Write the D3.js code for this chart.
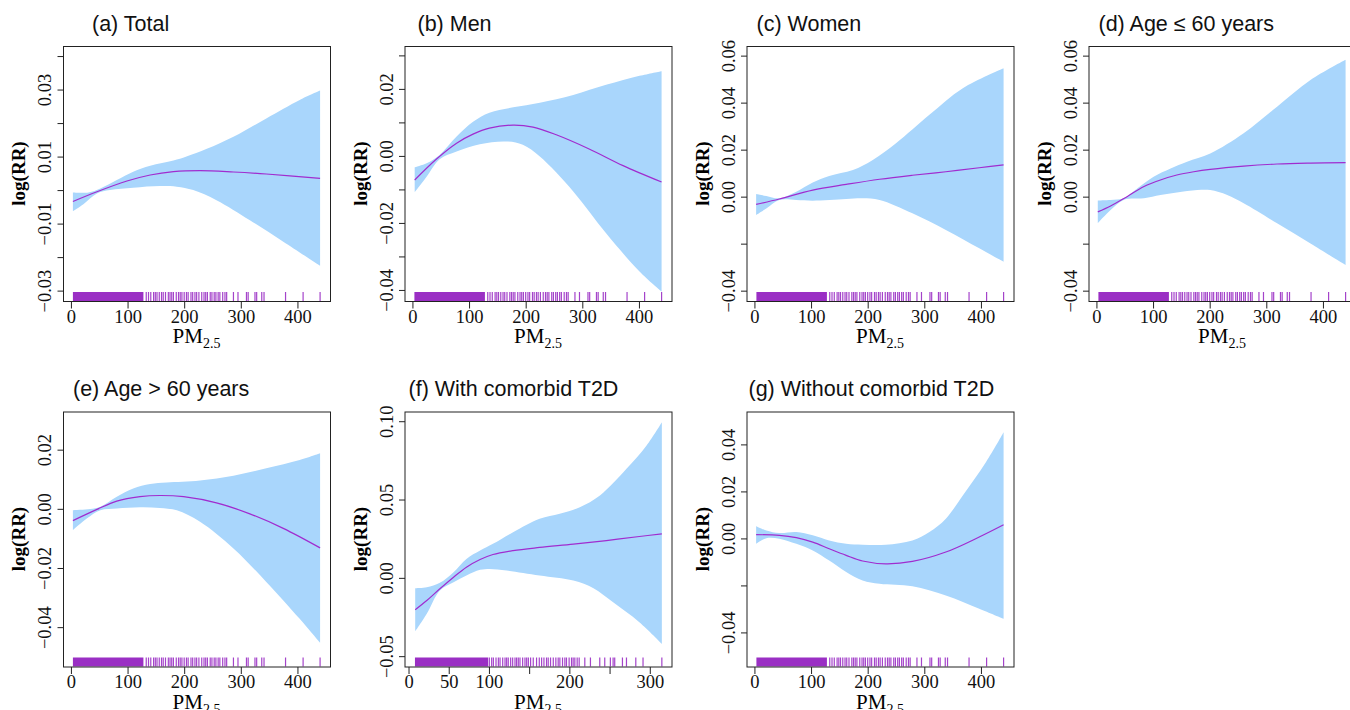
<!DOCTYPE html>
<html lang="en">
<head>
<meta charset="utf-8">
<title>PM2.5 exposure-response curves</title>
<script src="https://cdn.jsdelivr.net/npm/d3@7"></script>
<style>
  body { margin: 0; background: #fff; }
  svg { display: block; }
</style>
</head>
<body>
<script>
// panel titles
var panelTitles = ["(a) Total", "(b) Men", "(c) Women", "(d) Age \u2264 60 years",
                   "(e) Age > 60 years", "(f) With comorbid T2D", "(g) Without comorbid T2D"];

// (a) total
var totalFitX = [3.5, 46, 99, 140, 181, 228, 287, 345, 440];
var totalFit  = [-0.0034, -0.0005, 0.0027, 0.0045, 0.0055, 0.0058, 0.0054, 0.0048, 0.0035];
var totalUpX  = [3.5, 31, 52, 81, 110, 140, 181, 204, 240, 287, 345, 404, 440];
var totalUp   = [-0.0007, -0.0007, 0.0005, 0.003, 0.0055, 0.0073, 0.0088, 0.010, 0.0123, 0.0159, 0.0214, 0.0269, 0.0297];
var totalLowX = [3.5, 22, 46, 69, 110, 157, 187, 216, 257, 316, 375, 440];
var totalLow  = [-0.0063, -0.0042, -0.001, 0.000, 0.0007, 0.0012, 0.001, 0.000, -0.003, -0.009, -0.0154, -0.0226];

// (b) men
var menFitX = [4, 42, 78, 107, 136, 178, 213, 254, 313, 372, 440];
var menFit  = [-0.0072, -0.001, 0.0038, 0.0065, 0.0083, 0.0092, 0.0086, 0.0063, 0.002, -0.0029, -0.0078];
var menUpX  = [4, 25, 48, 78, 107, 136, 178, 225, 284, 342, 401, 440];
var menUp   = [-0.0034, -0.0022, 0.0003, 0.0058, 0.0102, 0.0129, 0.0145, 0.0159, 0.0182, 0.0212, 0.0239, 0.0253];
var menLowX = [4, 25, 48, 78, 119, 166, 195, 225, 284, 342, 401, 440];
var menLow  = [-0.0108, -0.0062, -0.001, 0.0013, 0.0035, 0.0043, 0.0033, -0.0002, -0.0106, -0.0231, -0.0345, -0.0405];

// (c) women
var womenFitX = [3, 44, 103, 162, 221, 279, 338, 397, 440];
var womenFit  = [-0.0033, -0.001, 0.0028, 0.0052, 0.0074, 0.0091, 0.0106, 0.0123, 0.0135];
var womenUpX  = [3, 21, 44, 74, 103, 132, 174, 209, 250, 309, 368, 440];
var womenUp   = [0.0011, 0.0003, -0.0007, 0.0021, 0.006, 0.0088, 0.0113, 0.0156, 0.0227, 0.0348, 0.0461, 0.0546];
var womenLowX = [3, 21, 44, 74, 103, 162, 191, 221, 279, 338, 397, 440];
var womenLow  = [-0.0078, -0.005, -0.0014, -0.0014, -0.0017, -0.001, -0.0007, -0.0014, -0.0071, -0.0142, -0.022, -0.0277];

// (d) age <= 60
var youngFitX = [2.4, 25, 54, 84, 113, 142, 172, 201, 260, 319, 378, 440];
var youngFit  = [-0.0065, -0.004, 0.000, 0.0043, 0.0071, 0.0092, 0.0106, 0.0116, 0.013, 0.0139, 0.0143, 0.0145];
var youngUpX  = [2.4, 25, 48, 72, 101, 131, 160, 201, 260, 319, 378, 440];
var youngUp   = [-0.0016, -0.0014, -0.0007, 0.0035, 0.0085, 0.012, 0.0149, 0.0184, 0.027, 0.0383, 0.0496, 0.0582];
var youngLowX = [2.4, 25, 48, 84, 113, 142, 178, 201, 231, 260, 319, 378, 440];
var youngLow  = [-0.0113, -0.0057, -0.0014, -0.0007, 0.0007, 0.0018, 0.0028, 0.0028, 0.0007, -0.0028, -0.0113, -0.0199, -0.0291];

// (e) age > 60
var oldFitX = [3.5, 46, 81, 122, 157, 199, 257, 316, 375, 440];
var oldFit  = [-0.004, -0.0002, 0.0026, 0.0041, 0.0045, 0.0041, 0.002, -0.0017, -0.0066, -0.0132];
var oldUpX  = [3.5, 34, 52, 81, 110, 140, 169, 228, 287, 345, 404, 440];
var oldUp   = [-0.0005, -0.0001, 0.0007, 0.0041, 0.0069, 0.0084, 0.0089, 0.0096, 0.0112, 0.0137, 0.0165, 0.0188];
var oldLowX = [3.5, 28, 52, 81, 122, 157, 187, 228, 287, 345, 404, 440];
var oldLow  = [-0.0072, -0.0033, -0.0005, 0.0001, 0.0005, 0.0003, -0.0005, -0.0044, -0.0134, -0.0247, -0.0372, -0.0453];

// (f) with comorbid T2D
var t2dFitX = [8.3, 22.7, 39, 56, 72, 89, 105, 130, 163, 205, 246, 287, 315];
var t2dFit  = [-0.0204, -0.0145, -0.007, 0.0004, 0.0068, 0.0117, 0.0149, 0.0174, 0.0194, 0.0215, 0.0238, 0.0264, 0.0281];
var t2dUpX  = [8.3, 22.7, 39, 56, 72, 89, 105, 130, 163, 188, 213, 238, 271, 296, 315];
var t2dUp   = [-0.0066, -0.006, -0.0032, 0.0036, 0.0121, 0.0174, 0.0217, 0.0291, 0.0377, 0.0409, 0.0451, 0.0526, 0.0696, 0.0845, 0.0994];
var t2dLowX = [8.3, 22.7, 39, 56, 72, 89, 101, 122, 163, 205, 230, 254, 287, 315];
var t2dLow  = [-0.0343, -0.023, -0.0081, -0.0028, 0.0015, 0.0051, 0.0057, 0.0047, 0.0015, -0.0017, -0.0066, -0.0155, -0.0283, -0.0421];

// (g) without comorbid T2D
var noT2dFitX = [3, 44, 74, 103, 132, 162, 191, 232, 279, 338, 397, 440];
var noT2dFit  = [0.0016, 0.0013, 0.0003, -0.0016, -0.0044, -0.0072, -0.0096, -0.0108, -0.0098, -0.0058, 0.0006, 0.0058];
var noT2dUpX  = [3, 21, 44, 74, 103, 132, 162, 191, 232, 279, 309, 338, 368, 409, 440];
var noT2dUp   = [0.0052, 0.0034, 0.0023, 0.0027, 0.0013, -0.0009, -0.0023, -0.0027, -0.0027, -0.0009, 0.0027, 0.0084, 0.0183, 0.0325, 0.0452];
var noT2dLowX = [3, 21, 44, 74, 103, 132, 162, 191, 221, 279, 338, 397, 440];
var noT2dLow  = [-0.0023, 0.0001, -0.0001, -0.0023, -0.0051, -0.0094, -0.0143, -0.0179, -0.0193, -0.0204, -0.0243, -0.0299, -0.0342];

// rug of observed PM2.5 (dense span drawn solid, then single days)
var rugDense  = [3.5, 128];
var rugSparse = [133, 137, 141, 146, 149, 152, 156, 160, 163, 167, 172, 175, 178, 181, 186, 190, 193, 196, 200,
                 204, 207, 212, 215, 219, 222, 226, 231, 235, 238, 241, 246, 249, 253, 256, 260, 263, 268, 272,
                 275, 287, 295, 310, 313, 325, 328, 337, 341, 379, 410, 440];
var t2dRugDense  = [8, 99];
var t2dRugSparse = [100.5, 103.4, 105.5, 108.8, 111.7, 113.8, 117.1, 120, 122, 124, 127, 129.5, 132.4, 134.4,
                    136.5, 138.6, 141.9, 144.8, 146.9, 149, 151.8, 155.1, 159.2, 162.6, 165.5, 168.4, 171.6,
                    173.7, 176.6, 180, 183.2, 186.1, 188.2, 191.5, 194.4, 196.4, 199.7, 202.7, 204.7, 206.8,
                    209.7, 212.2, 219.2, 226.2, 237.8, 244, 251, 254.4, 256.4, 266, 271, 282.6, 291.6, 315];

// axis limits and ticks
var xLims = [[-14, 457.5], [-14, 457.5], [-14, 457.5], [-14, 457.5], [-14, 457.5], [-5, 327], [-14, 457.5]];
var yLims = [[-0.0331, 0.043], [-0.0433, 0.0328], [-0.0444, 0.0641], [-0.0444, 0.0641],
             [-0.0533, 0.0329], [-0.0566, 0.1062], [-0.0545, 0.054]];
var xTicks = [0, 100, 200, 300, 400];
var xTicksT2d = [0, 50, 100, 150, 200, 250, 300];
var xLabelsT2d = [0, 50, 100, 200, 300];
var yTicks = [
  [-0.03, -0.02, -0.01, 0, 0.01, 0.02, 0.03, 0.04],
  [-0.04, -0.03, -0.02, -0.01, 0, 0.01, 0.02, 0.03],
  [-0.04, -0.02, 0, 0.02, 0.04, 0.06],
  [-0.04, -0.02, 0, 0.02, 0.04, 0.06],
  [-0.04, -0.02, 0, 0.02],
  [-0.05, 0, 0.05, 0.10],
  [-0.04, -0.02, 0, 0.02, 0.04]
];
var yLabels = [
  [-0.03, -0.01, 0.01, 0.03],
  [-0.04, -0.02, 0, 0.02],
  [-0.04, 0, 0.02, 0.04, 0.06],
  [-0.04, 0, 0.02, 0.04, 0.06],
  [-0.04, -0.02, 0, 0.02],
  [-0.05, 0, 0.05, 0.10],
  [-0.04, 0, 0.02, 0.04]
];

function zip(xs, ys) { return xs.map(function(x, i) { return [x, ys[i]]; }); }

var panels = [
  {fit: zip(totalFitX, totalFit), up: zip(totalUpX, totalUp), low: zip(totalLowX, totalLow), rd: rugDense, rs: rugSparse, xt: xTicks, xl: xTicks},
  {fit: zip(menFitX, menFit), up: zip(menUpX, menUp), low: zip(menLowX, menLow), rd: rugDense, rs: rugSparse, xt: xTicks, xl: xTicks},
  {fit: zip(womenFitX, womenFit), up: zip(womenUpX, womenUp), low: zip(womenLowX, womenLow), rd: rugDense, rs: rugSparse, xt: xTicks, xl: xTicks},
  {fit: zip(youngFitX, youngFit), up: zip(youngUpX, youngUp), low: zip(youngLowX, youngLow), rd: rugDense, rs: rugSparse, xt: xTicks, xl: xTicks},
  {fit: zip(oldFitX, oldFit), up: zip(oldUpX, oldUp), low: zip(oldLowX, oldLow), rd: rugDense, rs: rugSparse, xt: xTicks, xl: xTicks},
  {fit: zip(t2dFitX, t2dFit), up: zip(t2dUpX, t2dUp), low: zip(t2dLowX, t2dLow), rd: t2dRugDense, rs: t2dRugSparse, xt: xTicksT2d, xl: xLabelsT2d},
  {fit: zip(noT2dFitX, noT2dFit), up: zip(noT2dUpX, noT2dUp), low: zip(noT2dLowX, noT2dLow), rd: rugDense, rs: rugSparse, xt: xTicks, xl: xTicks}
];

// layout of the plot boxes
var boxLeft = [63, 404.5, 746.5, 1088.5, 63, 404.5, 746.5];
var boxTop  = [46, 46, 46, 46, 411.5, 411.5, 411.5];
var titleDx = [29, 13, 10, 10, 10, 4, 2];
var boxW = 267, boxH = 255;

var bandColor = "#a9d6fc", lineColor = "#a02ccf", rugColor = "#9a2fc4";
var serif = "'Liberation Serif', 'Times New Roman', serif";

var svg = d3.select("body").append("svg")
  .attr("width", 1350)
  .attr("height", 710);

function fmt(v) {
  var s = d3.format(".2f")(Math.abs(v));
  return v < -1e-9 ? "\u2212" + s : s;
}

panels.forEach(function(p, i) {
  var g = svg.append("g").attr("transform", "translate(" + boxLeft[i] + "," + boxTop[i] + ")");
  var x = d3.scaleLinear().domain(xLims[i]).range([0, boxW]);
  var y = d3.scaleLinear().domain(yLims[i]).range([boxH, 0]);

  var line = d3.line().x(function(d) { return x(d[0]); }).y(function(d) { return y(d[1]); })
    .curve(d3.curveCatmullRom.alpha(0.5));

  // confidence band: upper edge forward, lower edge back
  var lowRev = p.low.slice().reverse();
  var bandPath = line(p.up) + "L" + line(lowRev).slice(1) + "Z";
  g.append("path").attr("d", bandPath).attr("fill", bandColor).attr("stroke", "none");

  g.append("path").attr("d", line(p.fit))
    .attr("fill", "none").attr("stroke", lineColor).attr("stroke-width", 1.2);

  // rug
  g.append("rect")
    .attr("x", x(p.rd[0])).attr("y", boxH - 9)
    .attr("width", x(p.rd[1]) - x(p.rd[0])).attr("height", 9)
    .attr("fill", rugColor);
  g.selectAll(".rug").data(p.rs).enter().append("line")
    .attr("class", "rug")
    .attr("x1", function(d) { return x(d); }).attr("x2", function(d) { return x(d); })
    .attr("y1", boxH - 9).attr("y2", boxH)
    .attr("stroke", rugColor).attr("stroke-opacity", 0.9).attr("stroke-width", 1.2);

  // box
  g.append("rect").attr("x", 0.5).attr("y", 0.5).attr("width", boxW).attr("height", boxH)
    .attr("fill", "none").attr("stroke", "#222").attr("stroke-width", 1);

  // x axis
  var xAxis = d3.axisBottom(x).tickValues(p.xt).tickSize(7).tickPadding(1)
    .tickFormat(function(d) { return p.xl.indexOf(d) >= 0 ? d : ""; });
  var xa = g.append("g").attr("transform", "translate(0," + (boxH + 0.5) + ")").call(xAxis);
  xa.select(".domain").remove();
  xa.selectAll("line").attr("stroke", "#222");
  xa.selectAll("text").attr("font-family", serif)
    .attr("font-size", 18.5).attr("fill", "#111");

  // y axis
  var yAxis = d3.axisLeft(y).tickValues(yTicks[i]).tickSize(6).tickPadding(0)
    .tickFormat(function(d) {
      return yLabels[i].some(function(v) { return Math.abs(v - d) < 1e-9; }) ? fmt(d) : "";
    });
  var ya = g.append("g").attr("transform", "translate(0.5,0)").call(yAxis);
  ya.select(".domain").remove();
  ya.selectAll("line").attr("stroke", "#222");
  ya.selectAll("text")
    .attr("font-family", serif)
    .attr("font-size", 18.5).attr("fill", "#111")
    .attr("x", null).attr("dy", null)
    .attr("text-anchor", "middle")
    .attr("transform", "translate(-12.5,0) rotate(-90)");

  // axis titles
  g.append("text")
    .attr("transform", "translate(-38," + (boxH / 2) + ") rotate(-90)")
    .attr("text-anchor", "middle")
    .attr("font-family", serif)
    .attr("font-weight", "bold").attr("font-size", 19)
    .text("log(RR)");

  var xl = g.append("text")
    .attr("x", boxW / 2).attr("y", boxH + 42)
    .attr("text-anchor", "middle")
    .attr("font-family", serif)
    .attr("font-size", 21);
  xl.append("tspan").text("PM");
  xl.append("tspan").attr("font-size", 14).attr("dy", 5).text("2.5");

  // panel title
  g.append("text")
    .attr("x", titleDx[i]).attr("y", -15.5)
    .attr("font-family", "'Liberation Sans', Arial, sans-serif")
    .attr("font-size", 21.5).attr("fill", "#111")
    .text(panelTitles[i]);
});
</script>
</body>
</html>
